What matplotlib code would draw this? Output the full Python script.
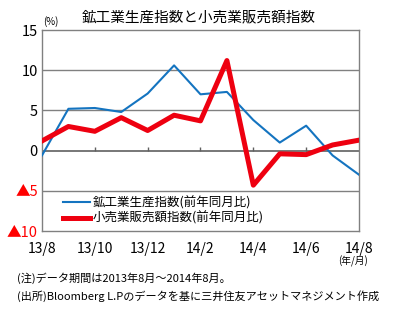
import matplotlib
matplotlib.use("Agg")
import matplotlib.pyplot as plt

plt.rcParams['font.family'] = ['Noto Sans CJK JP', 'DejaVu Sans']

months = ['13/8', '13/9', '13/10', '13/11', '13/12', '14/1', '14/2',
          '14/3', '14/4', '14/5', '14/6', '14/7', '14/8']
mining = [-0.6, 5.2, 5.3, 4.8, 7.1, 10.6, 7.0, 7.3, 3.8, 1.0, 3.1, -0.6, -3.0]
retail = [1.2, 3.0, 2.4, 4.1, 2.5, 4.4, 3.7, 11.2, -4.3, -0.4, -0.5, 0.7, 1.3]
y_ticks = [-10, -5, 0, 5, 10, 15]
y_labels = ['▲10', '▲5', '0', '5', '10', '15']

fig = plt.figure(figsize=(3.98, 3.22), dpi=100)
ax = fig.add_axes([0.1055, 0.2826, 0.7965, 0.6242])

x = list(range(len(months)))
ax.plot(x, mining, color='#1474c0', lw=1.5, label='鉱工業生産指数(前年同月比)', zorder=3)
ax.plot(x, retail, color='#ee0010', lw=3.6, label='小売業販売額指数(前年同月比)', zorder=4)

ax.set_xlim(0, 12)
ax.set_ylim(-10, 15)
for v in [-5, 5, 10]:
    ax.axhline(v, color='#808080', lw=1, zorder=1)
ax.axhline(0, color='#606060', lw=1.2, zorder=2)

# small tick marks standing on the zero line
tick_x = x[::2]
ax.vlines(tick_x[1:-1], 0, 0.5, color='#606060', lw=1, zorder=2)

ax.set_xticks(tick_x)
ax.set_xticklabels(months[::2], fontsize=10)
ax.tick_params(axis='x', length=0, pad=8)
ax.set_yticks(y_ticks)
ax.set_yticklabels(y_labels, fontsize=10.5)
ax.tick_params(axis='y', length=0, pad=3)
for lbl, v in zip(ax.get_yticklabels(), y_ticks):
    if v < 0:
        lbl.set_color('#ff0000')

for s in ax.spines.values():
    s.set_color('#808080')
    s.set_linewidth(1)

leg = ax.legend(loc='lower left', bbox_to_anchor=(0.066, 0.03), frameon=False,
                fontsize=9, handlelength=2.2, handletextpad=0.2,
                labelspacing=0.15, borderaxespad=0, borderpad=0)

fig.text(0.50, 0.945, '鉱工業生産指数と小売業販売額指数', ha='center', va='center', fontsize=10.5)
fig.text(0.128, 0.932, '(%)', ha='center', va='center', fontsize=7)
fig.text(0.888, 0.188, '(年/月)', ha='center', va='center', fontsize=7)
fig.text(0.042, 0.135, '(注)データ期間は2013年8月～2014年8月。', ha='left', va='center', fontsize=8)
fig.text(0.042, 0.08, '(出所)Bloomberg L.Pのデータを基に三井住友アセットマネジメント作成',
         ha='left', va='center', fontsize=8)

fig.savefig('out.png', dpi=100)
